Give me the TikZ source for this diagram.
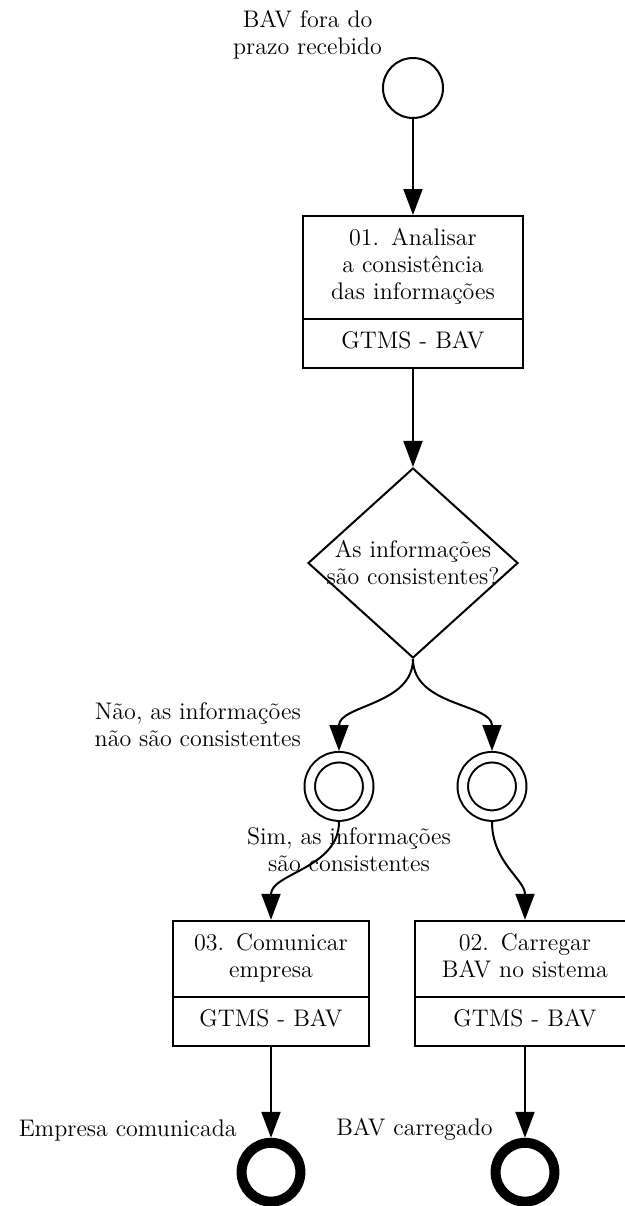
\documentclass[tikz,border=0pt]{standalone}
\usepackage{fontspec}
\usepackage{tikz}
\usetikzlibrary{shapes, arrows.meta, positioning}

\begin{document}
\begin{tikzpicture}[>={Triangle[length=13pt, width=9.5pt]}, font=\fontsize{12}{13.5}\selectfont,
  task/.style={draw, line width=1pt, rectangle split, rectangle split parts=2, align=center, inner xsep=4pt, inner ysep=5pt},
  decision/.style={draw, line width=1pt, diamond, inner sep=0pt, minimum width=105pt, minimum height=95pt},
  gateway/.style={draw, circle, line width=1pt, double, double distance=4.25pt, inner sep=0pt, minimum size=29.2pt, outer sep=3.1pt},
  startevent/.style={draw, circle, line width=1pt, inner sep=0pt, minimum size=30pt},
  endevent/.style={draw, circle, line width=5pt, inner sep=0pt, minimum size=29.4pt},
  flow/.style={->, line width=1pt}]
  \useasboundingbox (-206.5pt,44pt) rectangle (106pt,-559pt);

  % Inicio
  \node[startevent] (start) {};
  \node[above left=0pt and 1pt of start, align=center] (startlbl) {BAV fora do\\prazo recebido};
  \node[task, text width=102pt, below=48pt of start] (t01) {\strut 01. Analisar\\a consistência\\das informações\strut \nodepart{two} \strut GTMS - BAV};

  % Decisao
  \node[decision, below=49pt of t01] (dec) {};
  \node[align=center] (declbl) at (dec.center) {As informações\\são consistentes?};
  \node[gateway, below=46pt of dec, xshift=-37pt] (gwL) {};
  \node[gateway, below=46pt of dec, xshift=39.5pt] (gwR) {};
  \node[above left=4pt and 3pt of gwL, align=center] (naolbl) {Não, as informações\\não são consistentes};
  \node[below=-0.5pt of gwL, xshift=5pt, align=center] (simlbl) {Sim, as informações\\são consistentes};

  % Tarefas
  \node[task, text width=90pt, below=49pt of gwL, xshift=-34pt] (t03) {\strut 03. Comunicar\\empresa\strut \nodepart{two} \strut GTMS - BAV};
  \node[task, text width=102pt, below=49pt of gwR, xshift=16.5pt] (t02) {\strut 02. Carregar\\BAV no sistema\strut \nodepart{two} \strut GTMS - BAV};

  % Fim
  \node[endevent, below=45.5pt of t03] (endL) {};
  \node[endevent, below=45.5pt of t02] (endR) {};
  \node[above left=0pt and 1.5pt of endL] (emplbl) {Empresa comunicada};
  \node[above left=0pt and 0.5pt of endR] (bavlbl) {BAV carregado};

  % Fluxos
  \draw[flow] (start) -- (t01);
  \draw[flow] (t01) -- (dec);
  \draw[flow] (dec.south) to[out=-90, in=90] (gwL.north);
  \draw[flow] (dec.south) to[out=-90, in=90] (gwR.north);
  \draw[flow] (gwL.south) to[out=-90, in=90] (t03.north);
  \draw[flow] (gwR.south) to[out=-90, in=90] (t02.north);
  \draw[flow] (t03) -- (endL);
  \draw[flow] (t02) -- (endR);
\end{tikzpicture}
\end{document}
